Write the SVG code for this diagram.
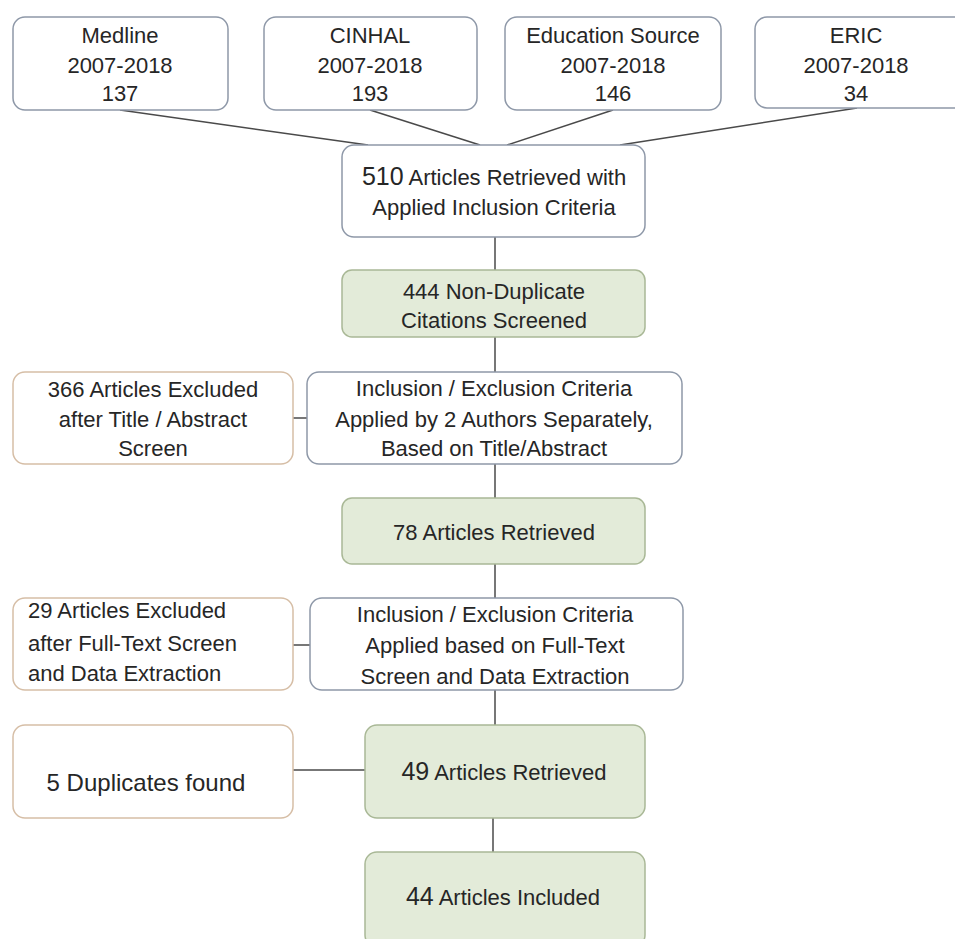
<svg xmlns="http://www.w3.org/2000/svg" width="955" height="939" viewBox="0 0 955 939">
<style>
.w{fill:#ffffff;stroke:#8e98a8;stroke-width:1.5}
.g{fill:#e3ebd9;stroke:#a9b896;stroke-width:1.5}
.x{fill:#ffffff;stroke:#d6bea6;stroke-width:1.5}
text{font-family:"Liberation Sans",Arial,sans-serif;font-size:22px;fill:#262626;text-anchor:middle}
.l{text-anchor:start}
.big{font-size:25px}
.c line{stroke:#4a4a4a;stroke-width:1.5}
</style>
<rect width="955" height="939" fill="#ffffff"/>
<g class="c" id="connectors">
<line x1="120" y1="110" x2="368" y2="145"/>
<line x1="370" y1="110" x2="480" y2="145"/>
<line x1="613" y1="110" x2="507" y2="145"/>
<line x1="857" y1="108" x2="620" y2="145"/>
<line x1="495" y1="237" x2="495" y2="270"/>
<line x1="495" y1="337" x2="495" y2="372"/>
<line x1="293" y1="418" x2="307" y2="418"/>
<line x1="495" y1="464" x2="495" y2="498"/>
<line x1="495" y1="564" x2="495" y2="598"/>
<line x1="293" y1="645" x2="310" y2="645"/>
<line x1="495" y1="690" x2="495" y2="725"/>
<line x1="293" y1="770" x2="365" y2="770"/>
<line x1="493" y1="818" x2="493" y2="852"/>
</g>
<g id="medline">
<rect class="w" x="13" y="17" width="215" height="93" rx="12"/>
<text x="120" y="43">Medline</text>
<text x="120" y="73">2007-2018</text>
<text x="120" y="101">137</text>
</g>
<g id="cinhal">
<rect class="w" x="264" y="17" width="213" height="93" rx="12"/>
<text x="370" y="43">CINHAL</text>
<text x="370" y="73">2007-2018</text>
<text x="370" y="101">193</text>
</g>
<g id="education">
<rect class="w" x="505" y="17" width="216" height="93" rx="12"/>
<text x="613" y="43">Education Source</text>
<text x="613" y="73">2007-2018</text>
<text x="613" y="101">146</text>
</g>
<g id="eric">
<rect class="w" x="755" y="17" width="212" height="91" rx="12"/>
<text x="856" y="43">ERIC</text>
<text x="856" y="73">2007-2018</text>
<text x="856" y="101">34</text>
</g>
<g id="retrieved510">
<rect class="w" x="342" y="145" width="303" height="92" rx="12"/>
<text x="494" y="185"><tspan class="big">510</tspan> Articles Retrieved with</text>
<text x="494" y="215">Applied Inclusion Criteria</text>
</g>
<g id="nondup444">
<rect class="g" x="342" y="270" width="303" height="67" rx="10"/>
<text x="494" y="299">444 Non-Duplicate</text>
<text x="494" y="328">Citations Screened</text>
</g>
<g id="excluded366">
<rect class="x" x="13" y="372" width="280" height="92" rx="12"/>
<text x="153" y="397">366 Articles Excluded</text>
<text x="153" y="427">after Title / Abstract</text>
<text x="153" y="456">Screen</text>
</g>
<g id="criteria1">
<rect class="w" x="307" y="372" width="375" height="92" rx="12"/>
<text x="494" y="396">Inclusion / Exclusion Criteria</text>
<text x="494" y="427">Applied by 2 Authors Separately,</text>
<text x="494" y="456">Based on Title/Abstract</text>
</g>
<g id="retrieved78">
<rect class="g" x="342" y="498" width="303" height="66" rx="10"/>
<text x="494" y="540">78 Articles Retrieved</text>
</g>
<g id="excluded29">
<rect class="x" x="13" y="598" width="280" height="92" rx="12"/>
<text class="l" x="28" y="618">29 Articles Excluded</text>
<text class="l" x="28" y="651">after Full-Text Screen</text>
<text class="l" x="28" y="681">and Data Extraction</text>
</g>
<g id="criteria2">
<rect class="w" x="310" y="598" width="373" height="92" rx="12"/>
<text x="495" y="622">Inclusion / Exclusion Criteria</text>
<text x="495" y="653">Applied based on Full-Text</text>
<text x="495" y="684">Screen and Data Extraction</text>
</g>
<g id="duplicates5">
<rect class="x" x="13" y="725" width="280" height="93" rx="12"/>
<text x="146" y="791" style="font-size:24px">5 Duplicates found</text>
</g>
<g id="retrieved49">
<rect class="g" x="365" y="725" width="280" height="93" rx="12"/>
<text x="504" y="780"><tspan class="big">49</tspan> Articles Retrieved</text>
</g>
<g id="included44">
<rect class="g" x="365" y="852" width="280" height="95" rx="12"/>
<text x="503" y="905"><tspan class="big">44</tspan> Articles Included</text>
</g>
</svg>
